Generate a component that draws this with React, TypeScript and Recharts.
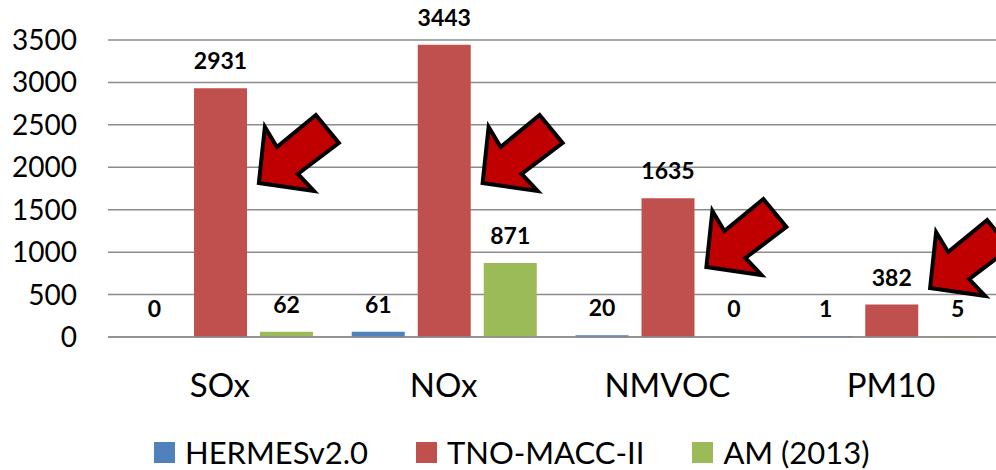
import React from 'react';
import {
  BarChart,
  Bar,
  XAxis,
  YAxis,
  CartesianGrid,
  Legend,
  LabelList,
  ReferenceDot,
  Rectangle,
} from 'recharts';

// Emission totals per pollutant for three inventories
const pollutants = ['SOx', 'NOx', 'NMVOC', 'PM10'];
const hermesValues = [0, 61, 20, 1];
const tnoValues = [2931, 3443, 1635, 382];
const amValues = [62, 871, 0, 5];
const yTicks = [0, 500, 1000, 1500, 2000, 2500, 3000, 3500];

const seriesNames = ['HERMESv2.0', 'TNO-MACC-II', 'AM (2013)'];
const seriesColors = ['#4F81BD', '#C0504D', '#9BBB59'];

// Highlight arrows pointing at the TNO-MACC-II bars (tip height in data units)
const arrowCategories = ['SOx', 'NOx', 'NMVOC', 'PM10'];
const arrowTipValues = [1815, 1815, 825, 577];

const data = pollutants.map((p, i) => ({
  name: p,
  hermes: hermesValues[i],
  tno: tnoValues[i],
  am: amValues[i],
}));

const FONT = 'Lato, "Open Sans", sans-serif';
const ARROW_DX = 39;

const Arrow = (props: any) => {
  const { cx, cy } = props;
  if (cx == null || cy == null) return null;
  const tx = cx + ARROW_DX;
  const ty = cy;
  const pts = [
    [0, 0],
    [6, -56],
    [18, -36],
    [57, -68],
    [80, -40],
    [39, -9],
    [55, 8],
  ]
    .map(([x, y]) => `${tx + x},${ty + y}`)
    .join(' ');
  return (
    <polygon
      points={pts}
      fill="#C00000"
      stroke="#000"
      strokeWidth={4}
      strokeLinejoin="miter"
    />
  );
};

// Zero values keep a 1px slot so their labels are placed, but draw no rectangle
const BarShape = (props: any) => {
  const v = Array.isArray(props.value) ? props.value[1] - props.value[0] : props.value;
  if (!v) return <g />;
  return <Rectangle {...props} />;
};

const LegendContent = () => (
  <div
    style={{
      height: 50,
      boxSizing: 'border-box',
      paddingTop: 14,
      paddingLeft: 154,
      display: 'flex',
      alignItems: 'center',
      fontFamily: FONT,
      fontSize: 31,
      lineHeight: '36px',
      color: '#000',
      whiteSpace: 'nowrap',
    }}
  >
    {seriesNames.map((n, i) => (
      <div
        key={n}
        style={{ display: 'flex', alignItems: 'center', marginRight: i < 2 ? 48 : 0 }}
      >
        <span
          style={{
            display: 'inline-block',
            width: 21,
            height: 21,
            background: seriesColors[i],
            marginRight: 10,
          }}
        />
        <span>{n}</span>
      </div>
    ))}
  </div>
);

const labelStyle = {
  fontFamily: FONT,
  fontSize: 23,
  fontWeight: 700,
  fill: '#000',
};

export default function App() {
  return (
    <div
      style={{
        position: 'absolute',
        left: 0,
        top: 0,
        width: 996,
        height: 470,
        overflow: 'hidden',
        background: '#fff',
      }}
    >
      <BarChart
        width={1010}
        height={470}
        data={data}
        margin={{ top: 40, right: 7, left: 0, bottom: 0 }}
        barCategoryGap={20}
        barGap={13}
      >
        <CartesianGrid vertical={false} stroke="#8C8C8C" strokeWidth={1.5} />
        <XAxis
          dataKey="name"
          height={83}
          axisLine={{ stroke: '#8C8C8C', strokeWidth: 1.5 }}
          tickLine={false}
          tickSize={0}
          tickMargin={37}
          tick={{ fontFamily: FONT, fontSize: 33, fill: '#000' }}
          interval={0}
        />
        <YAxis
          width={108}
          domain={[0, 3500]}
          ticks={yTicks}
          axisLine={false}
          tickLine={false}
          tickSize={0}
          tickMargin={31}
          tick={{ fontFamily: FONT, fontSize: 28, fill: '#000' }}
          interval={0}
        />
        <Legend verticalAlign="bottom" content={<LegendContent />} />
        <Bar
          dataKey="hermes"
          name={seriesNames[0]}
          fill={seriesColors[0]}
          minPointSize={1}
          shape={BarShape}
          isAnimationActive={false}
        >
          <LabelList dataKey="hermes" position="top" offset={19} style={labelStyle} />
        </Bar>
        <Bar
          dataKey="tno"
          name={seriesNames[1]}
          fill={seriesColors[1]}
          minPointSize={1}
          shape={BarShape}
          isAnimationActive={false}
        >
          <LabelList dataKey="tno" position="top" offset={19} style={labelStyle} />
        </Bar>
        <Bar
          dataKey="am"
          name={seriesNames[2]}
          fill={seriesColors[2]}
          minPointSize={1}
          shape={BarShape}
          isAnimationActive={false}
        >
          <LabelList dataKey="am" position="top" offset={19} style={labelStyle} />
        </Bar>
        {arrowCategories.map((c, i) => (
          <ReferenceDot
            key={c}
            x={c}
            y={arrowTipValues[i]}
            r={1}
            ifOverflow="visible"
            shape={Arrow}
          />
        ))}
      </BarChart>
    </div>
  );
}
